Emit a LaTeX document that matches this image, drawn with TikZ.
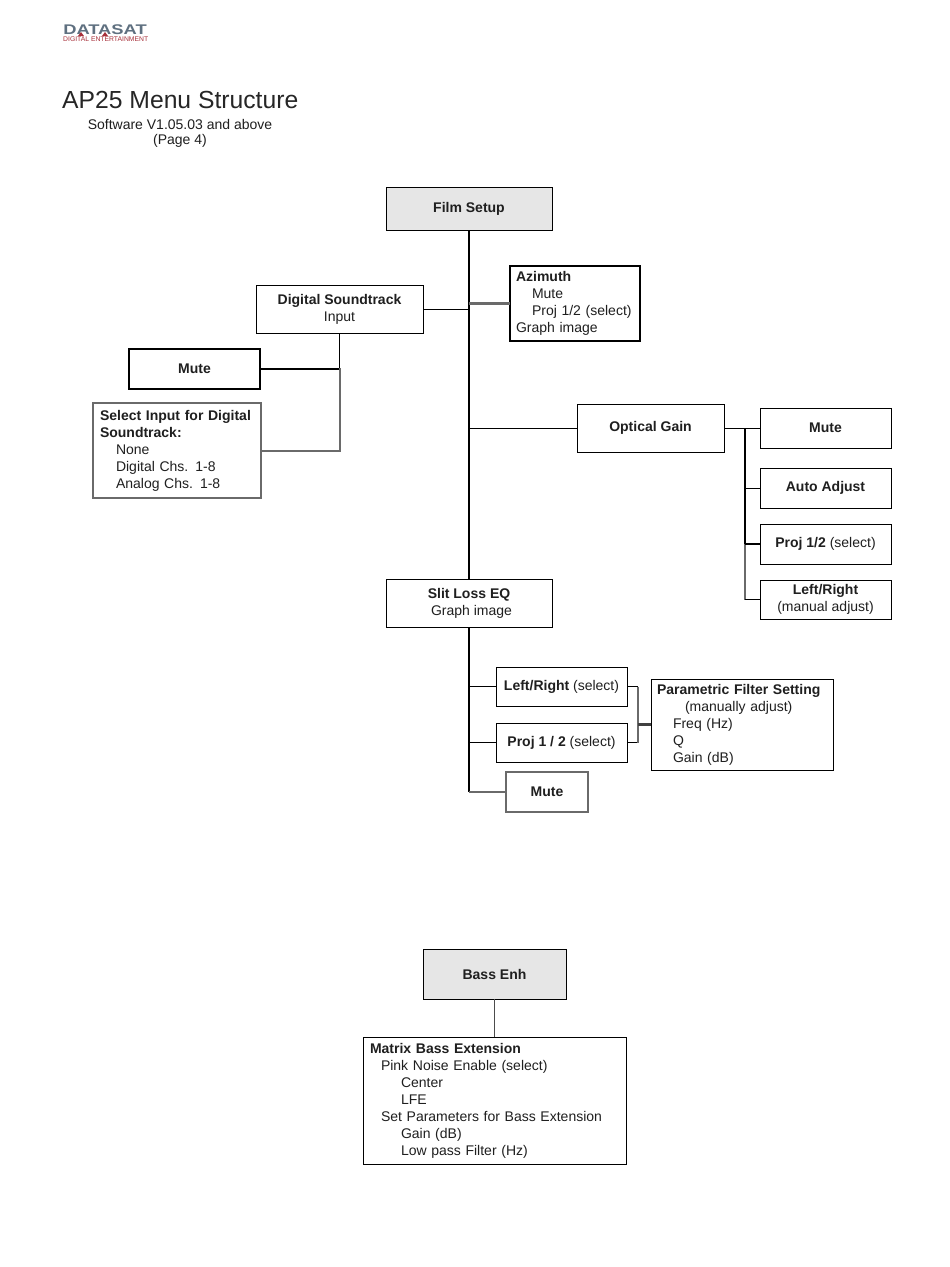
\documentclass[tikz,border=0pt]{standalone}
\usepackage{fontspec}
\setmainfont{Liberation Sans}
\definecolor{linegrey}{HTML}{6A6A6A}
\definecolor{boxfill}{HTML}{E6E6E6}
\definecolor{logogrey}{HTML}{5F7080}
\definecolor{logored}{HTML}{A8303A}
\tikzset{
  thinb/.style={draw=black,line width=0.8pt},
  midb/.style={draw=black,line width=1.2pt},
  thickb/.style={draw=black,line width=1.9pt},
  greyl/.style={draw=linegrey,line width=2pt},
  txt/.style={font=\fontsize{14}{17}\selectfont,text=black!88},
  box/.style={txt,outer sep=0pt,inner sep=0pt,align=center},
  lbox/.style={txt,outer sep=0pt,inner xsep=6pt,inner ysep=0pt,align=left},
}
\newcommand{\ind}[1][16pt]{\hspace*{#1}}
\begin{document}
\begin{tikzpicture}[x=1pt,y=-1pt]
\useasboundingbox (0,0) rectangle (950,1267);
\fill[white] (0,0) rectangle (950,1267);
% logo
\node[anchor=west,inner sep=0pt,text=logogrey,font=\bfseries\fontsize{14}{15}\selectfont,xscale=1.31,transform shape] (logoa) at (63,30) {DATASAT};
\fill[logored] (78,36) -- (81,32) -- (84,36) -- cycle;
\fill[logored] (102,36) -- (105,32) -- (108,36) -- cycle;
\node[anchor=west,inner sep=0pt,text=logored,font=\fontsize{6.8}{7}\selectfont] (logob) at (63,39.5) {DIGITAL ENTERTAINMENT};
% titles
\node[anchor=west,inner sep=0pt,text=black!85,font=\fontsize{24.7}{26}\selectfont] (title) at (62,100) {AP25 Menu Structure};
\node[inner sep=0pt,txt] (sub1) at (180,124) {Software V1.05.03 and above};
\node[inner sep=0pt,txt] (sub2) at (180,141) {(Page 4)};
% boxes
\node[box,thinb,fill=boxfill,minimum width=166pt,minimum height=43pt] (film) at (469,208.5) {\textbf{Film Setup}};
\node[box,thinb,minimum width=167pt,minimum height=48pt] (digital) at (339.5,309) {\textbf{Digital Soundtrack}\\Input};
\node[lbox,midb,minimum height=75pt,text width=118pt] (azimuth) at (575,303.5) {\textbf{Azimuth}\\\ind Mute\\\ind Proj 1/2 (select)\\Graph image};
\node[box,midb,minimum width=131pt,minimum height=40pt] (mutea) at (194.5,369) {\textbf{Mute}};
\node[lbox,greyl,inner xsep=7pt,minimum height=95pt,text width=154pt] (select) at (177,450.5) {\textbf{Select Input for Digital}\\\textbf{Soundtrack:}\\\ind None\\\ind Digital Chs. 1-8\\\ind Analog Chs. 1-8};
\node[box,thinb,minimum width=147pt,minimum height=48pt] (optical) at (650.5,428) {\textbf{Optical Gain}};
\node[box,thinb,minimum width=131pt,minimum height=40pt] (muteb) at (825.5,428) {\textbf{Mute}};
\node[box,thinb,minimum width=131pt,minimum height=40pt] (auto) at (825.5,488) {\textbf{Auto Adjust}};
\node[box,thinb,minimum width=131pt,minimum height=40pt] (projr) at (825.5,544) {\textbf{Proj 1/2} (select)};
\node[box,thinb,minimum width=131pt,minimum height=39pt] (lrr) at (825.5,599.5) {\textbf{Left/Right}\\(manual adjust)};
\node[box,thinb,minimum width=166pt,minimum height=48pt] (slit) at (469,603) {\textbf{Slit Loss EQ}\\\ind[5pt]Graph image};
\node[box,thinb,minimum width=131pt,minimum height=39pt] (lrs) at (561.5,686.5) {\textbf{Left/Right} (select)};
\node[box,thinb,minimum width=131pt,minimum height=39pt] (projs) at (561.5,742.5) {\textbf{Proj 1 / 2} (select)};
\node[box,greyl,minimum width=82pt,minimum height=40pt] (mutec) at (547,792) {\textbf{Mute}};
\node[lbox,thinb,minimum height=91pt,text width=170pt] (param) at (742,724.5) {\textbf{Parametric Filter Setting}\\\ind[28pt](manually adjust)\\\ind Freq (Hz)\\\ind Q\\\ind Gain (dB)};
\node[box,thinb,fill=boxfill,minimum width=143pt,minimum height=50pt] (bass) at (494.5,974) {\textbf{Bass Enh}};
\node[lbox,thinb,inner xsep=7pt,minimum height=127pt,text width=249pt] (matrix) at (494.5,1100.5) {\textbf{Matrix Bass Extension}\\\ind[11pt]Pink Noise Enable (select)\\\ind[31pt]Center\\\ind[31pt]LFE\\\ind[11pt]Set Parameters for Bass Extension\\\ind[31pt]Gain (dB)\\\ind[31pt]Low pass Filter (Hz)};
% connectors
\coordinate (obus) at (745,428);
\coordinate (fbus) at (638,724.5);
\draw[thickb] (film.south) -- (slit.north);
\draw[thinb] (digital.east) -- (digital.east -| film.south);
\draw[greyl,line width=2.6pt] (azimuth.west) -- (azimuth.west -| film.south);
\draw[thickb] (digital.south) -- (digital.south |- mutea.east);
\draw[thickb] (mutea.east) -- (mutea.east -| digital.south);
\draw[greyl,line cap=rect] (digital.south |- mutea.east) -- (digital.south |- select.east) -- (select.east);
\draw[thinb] (optical.west) -- (optical.west -| film.south);
\draw[thinb] (optical.east) -- (muteb.west);
\draw[thickb] (obus) -- (obus |- projr.west);
\draw[greyl,line width=1.6pt] (obus |- projr.west) -- (obus |- lrr.west);
\draw[thinb] (auto.west) -- (auto.west -| obus);
\draw[thickb] (projr.west) -- (projr.west -| obus);
\draw[thinb] (lrr.west) -- (lrr.west -| obus);
\draw[thickb] (slit.south) -- (slit.south |- mutec.west);
\draw[thickb] (lrs.west) -- (lrs.west -| slit.south);
\draw[thinb] (projs.west) -- (projs.west -| slit.south);
\draw[greyl,line width=1.6pt] (mutec.west) -- (mutec.west -| slit.south);
\draw[thickb,line width=1.5pt] (lrs.east) -- (lrs.east -| fbus);
\draw[thinb] (projs.east) -- (projs.east -| fbus);
\draw[greyl,line width=1.4pt] (lrs.east -| fbus) -- (projs.east -| fbus);
\draw[thickb,draw=black!75,line width=2.4pt] (fbus) -- (param.west);
\draw[thinb,draw=black!70] (bass.south) -- (matrix.north);
\end{tikzpicture}
\end{document}
